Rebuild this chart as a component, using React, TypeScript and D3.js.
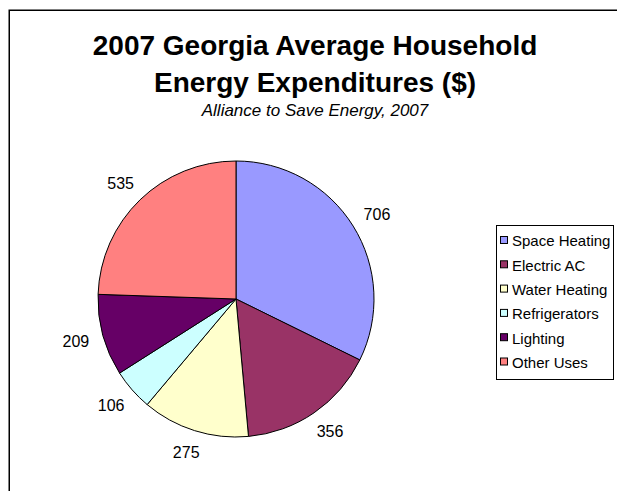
import React from "react";
import * as d3 from "d3";

const categories = ["Space Heating", "Electric AC", "Water Heating", "Refrigerators", "Lighting", "Other Uses"];
const values = [706, 356, 275, 106, 209, 535];
const colors = ["#9999FF", "#993366", "#FFFFCC", "#CCFFFF", "#660066", "#FF8080"];
const titleLines = ["2007 Georgia Average Household", "Energy Expenditures ($)"];
const subtitle = "Alliance to Save Energy, 2007";

const W = 617;
const H = 491;
const cx = 236;
const cy = 299;
const R = 138;
const font = "'Liberation Sans', Arial, sans-serif";

export default function App() {
  const pie = d3.pie<number>().sort(null).value((d) => d)(values);
  const arc = d3.arc<d3.PieArcDatum<number>>().innerRadius(0).outerRadius(R);

  const labelPos = (a: d3.PieArcDatum<number>) => {
    const mid = (a.startAngle + a.endAngle) / 2;
    const dx = Math.sin(mid);
    const dy = -Math.cos(mid);
    const rr = R + 14;
    return [cx + dx * rr + dx * 14, cy + dy * rr + dy * 9];
  };

  const legendX = 496;
  const legendY = 225;
  const legendW = 117;
  const legendH = 154;
  const rowY = d3.scaleLinear().domain([0, categories.length - 1]).range([legendY + 16, legendY + 137.5]);

  return (
    <div style={{ position: "absolute", left: 0, top: 0 }}>
      <svg width={W} height={H} style={{ display: "block", background: "#fff" }}>
        <rect x={0} y={0} width={W} height={H} fill="#fff" />
        <rect x={9.25} y={10.25} width={W + 20} height={H + 20} fill="none" stroke="#000" strokeWidth={1.5} />
        <g fontFamily={font} textAnchor="middle" fill="#000">
          <text x={315} y={55} fontSize={28} fontWeight="bold">{titleLines[0]}</text>
          <text x={315} y={92} fontSize={28} fontWeight="bold">{titleLines[1]}</text>
          <text x={315} y={116} fontSize={17} fontStyle="italic">{subtitle}</text>
        </g>
        <g transform={`translate(${cx},${cy})`}>
          {pie.map((a, i) => (
            <path key={i} d={arc(a) || ""} fill={colors[i]} stroke="#000" strokeWidth={1} />
          ))}
        </g>
        <g fontFamily={font} fontSize={16} textAnchor="middle" fill="#000">
          {pie.map((a, i) => {
            const [x, y] = labelPos(a);
            return (
              <text key={i} x={x} y={y} dy="0.36em">{values[i]}</text>
            );
          })}
        </g>
        <g fontFamily={font} fontSize={15} fill="#000">
          <rect x={legendX + 0.5} y={legendY + 0.5} width={legendW} height={legendH} fill="#fff" stroke="#000" strokeWidth={1} />
          {categories.map((c, i) => (
            <g key={c}>
              <rect x={legendX + 4.5} y={rowY(i) - 4.5} width={7} height={7} fill={colors[i]} stroke="#000" strokeWidth={1} />
              <text x={legendX + 16} y={rowY(i)} dy="0.36em">{c}</text>
            </g>
          ))}
        </g>
      </svg>
    </div>
  );
}
